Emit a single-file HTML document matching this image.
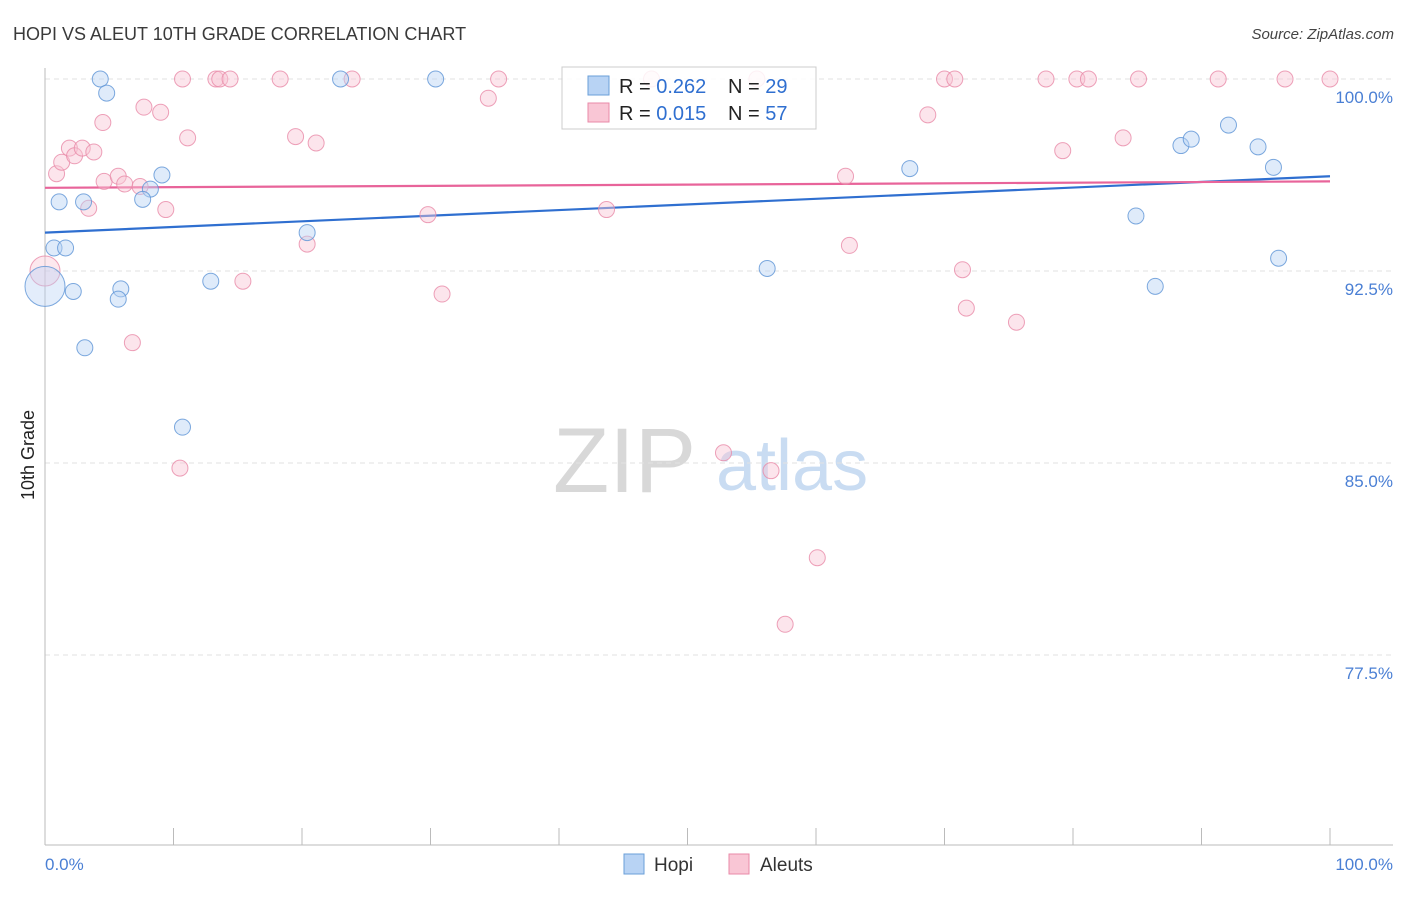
<!DOCTYPE html>
<html><head><meta charset="utf-8"><style>
body{margin:0;background:#fff;font-family:"Liberation Sans",sans-serif;}
svg text{font-family:"Liberation Sans",sans-serif;}
</style></head><body>
<svg id="chart" width="1406" height="892" viewBox="0 0 1406 892" xmlns="http://www.w3.org/2000/svg">
<text x="13" y="40" font-size="18" fill="#3a3a3a">HOPI VS ALEUT 10TH GRADE CORRELATION CHART</text>
<text x="1394" y="39" font-size="15" fill="#444" text-anchor="end" font-style="italic">Source: ZipAtlas.com</text>
<g>
<text x="553" y="492" font-size="92" fill="#d8d8d8" font-family="Liberation Serif, serif">ZIP</text>
<text x="716" y="490" font-size="72" fill="#c9dcf2">atlas</text>
</g>
<g id="grid"></g>
<g id="axes"></g>
<g id="lines"></g>
<g id="points"></g>
<g>
<rect x="562" y="67" width="254" height="62" fill="#fff" fill-opacity="0.85" stroke="#ccc"/>
<rect x="588" y="76" width="21" height="19" fill="#b8d3f4" stroke="#6a9fd8"/>
<rect x="588" y="103" width="21" height="19" fill="#f9c6d5" stroke="#e98aa8"/>
<text x="619" y="93" font-size="20" fill="#222">R = <tspan fill="#2f6fd0">0.262</tspan></text>
<text x="728" y="93" font-size="20" fill="#222">N = <tspan fill="#2f6fd0">29</tspan></text>
<text x="619" y="120" font-size="20" fill="#222">R = <tspan fill="#2f6fd0">0.015</tspan></text>
<text x="728" y="120" font-size="20" fill="#222">N = <tspan fill="#2f6fd0">57</tspan></text>
</g>
<g>
<rect x="624" y="854" width="20" height="20" fill="#b8d3f4" stroke="#6a9fd8"/>
<text x="654" y="871" font-size="19" fill="#333">Hopi</text>
<rect x="729" y="854" width="20" height="20" fill="#f9c6d5" stroke="#e98aa8"/>
<text x="760" y="871" font-size="19" fill="#333">Aleuts</text>
</g>
<text transform="translate(34,455) rotate(-90)" font-size="18" fill="#222" text-anchor="middle">10th Grade</text>
</svg>
<script>
const yTicks=[100,92.5,85,77.5];
const yTickLabels=["100.0%","92.5%","85.0%","77.5%"];
const xTickLabels=["0.0%","100.0%"];
const hopiX=[4.3,4.8,23.0,30.4,1.1,3.0,0.7,1.6,0,2.2,3.1,5.9,5.7,8.2,7.6,9.1,10.7,12.9,20.4,56.2,67.3,84.9,86.4,88.4,89.2,92.1,94.4,95.6,96.0];
const hopiY=[100,99.45,100,100,95.2,95.2,93.4,93.4,91.9,91.7,89.5,91.8,91.4,95.7,95.3,96.25,86.4,92.1,94.0,92.6,96.5,94.65,91.9,97.4,97.65,98.2,97.35,96.55,93.0];
const aleutX=[0,0.9,1.3,1.9,2.3,2.9,3.8,3.4,4.6,4.5,5.7,6.2,7.4,6.8,7.7,9.0,9.4,10.7,10.5,11.1,13.3,13.6,14.4,15.4,18.3,19.5,21.1,20.4,23.9,29.8,30.9,34.5,35.3,43.7,47.2,52.8,55.4,56.5,57.6,60.1,62.3,62.6,68.7,70.0,70.8,71.4,71.7,75.6,77.9,79.2,80.3,81.2,83.9,85.1,91.3,96.5,100];
const aleutY=[92.5,96.3,96.75,97.3,97.0,97.3,97.15,94.95,96.0,98.3,96.2,95.9,95.8,89.7,98.9,98.7,94.9,100,84.8,97.7,100,100,100,92.1,100,97.75,97.5,93.55,100,94.7,91.6,99.25,100,94.9,100,85.4,100,84.7,78.7,81.3,96.2,93.5,98.6,100,100,92.55,91.05,90.5,100,97.2,100,100,97.7,100,100,100,100];
const hopiTrend=[94.0,96.2];
const aleutTrend=[95.75,96.0];

const NS="http://www.w3.org/2000/svg";
const X0=45,X1=1330,Y100=79,PXPER=25.6;
const sx=v=>X0+(X1-X0)*v/100;
const sy=v=>Y100+(100-v)*PXPER;
function el(tag,attrs,parent){const e=document.createElementNS(NS,tag);for(const k in attrs)e.setAttribute(k,attrs[k]);parent.appendChild(e);return e;}
const grid=document.getElementById('grid'),axes=document.getElementById('axes'),lines=document.getElementById('lines'),pts=document.getElementById('points');
yTicks.forEach((t,i)=>{
  const g=el('line',{x1:45,x2:1393,y1:sy(t),y2:sy(t),stroke:'#e2e2e2','stroke-dasharray':'5,4'},grid);
  
  
  const tx=el('text',{x:1393,y:sy(t)+24,'font-size':17,fill:'#4a7fd4','text-anchor':'end'},axes);
  tx.textContent=yTickLabels[i];
  
  
});
const yax=el('line',{x1:45,x2:45,y1:68,y2:845,stroke:'#bbb'},axes);


const xax=el('line',{x1:45,x2:1393,y1:845,y2:845,stroke:'#bbb'},axes);


for(let i=0;i<=10;i++){
  const t=el('line',{x1:sx(i*10),x2:sx(i*10),y1:828,y2:845,stroke:'#bbb'},axes);
  
  
}
const xl0=el('text',{x:45,y:870,'font-size':17,fill:'#4a7fd4'},axes);xl0.textContent=xTickLabels[0];


const xl1=el('text',{x:1393,y:870,'font-size':17,fill:'#4a7fd4','text-anchor':'end'},axes);xl1.textContent=xTickLabels[1];


function drawPts(xs,ys,fill,stroke,name,bigR){
  xs.forEach((x,i)=>{
    const big=(x===0);
    const c=el('circle',{cx:sx(x),cy:sy(ys[i]),r:big?bigR:8,fill:fill,'fill-opacity':big?0.4:0.45,stroke:stroke,'stroke-opacity':0.8,'stroke-width':1},pts);
    
    
  });
}
drawPts(aleutX,aleutY,'#f9c6d5','#e98aa8','aleut-point',15);
drawPts(hopiX,hopiY,'#b8d3f4','#5d94d6','hopi-point',20);
const l1=el('line',{x1:sx(0),y1:sy(hopiTrend[0]),x2:sx(100),y2:sy(hopiTrend[1]),stroke:'#2f6fd0','stroke-width':2.2},lines);


const l2=el('line',{x1:sx(0),y1:sy(aleutTrend[0]),x2:sx(100),y2:sy(aleutTrend[1]),stroke:'#e8649a','stroke-width':2.2},lines);


</script>
</body></html>
